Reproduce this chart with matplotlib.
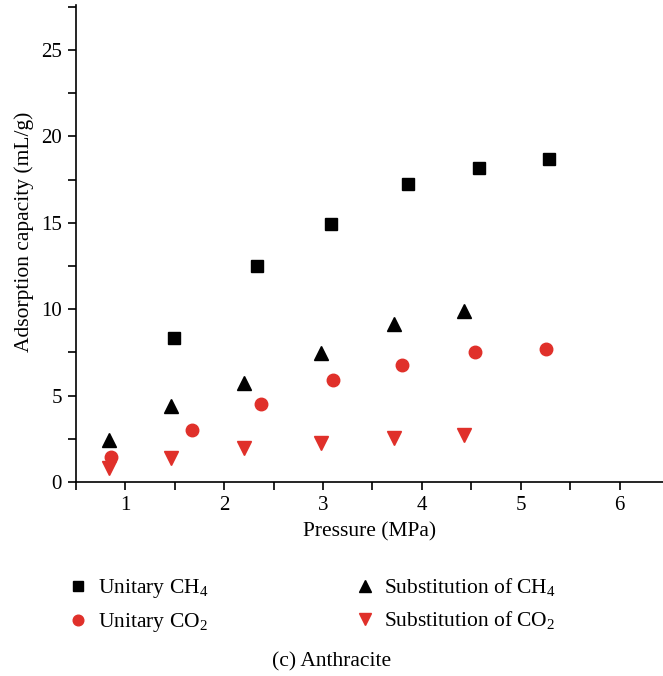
import matplotlib.pyplot as plt
from matplotlib.ticker import MultipleLocator

plt.rcParams["font.family"] = ["Liberation Serif", "DejaVu Serif"]
plt.rcParams["mathtext.fontset"] = "custom"
plt.rcParams["mathtext.rm"] = "Liberation Serif"

# adsorption data (pressure in MPa, capacity in mL/g)
p_ch4 = [1.49, 2.33, 3.08, 3.86, 4.58, 5.29]
unitary_ch4 = [8.33, 12.49, 14.9, 17.26, 18.19, 18.7]

p_sub = [0.83, 1.46, 2.20, 2.98, 3.72, 4.43]
subst_ch4 = [2.41, 4.38, 5.70, 7.47, 9.14, 9.88]
subst_co2 = [0.82, 1.36, 1.95, 2.26, 2.53, 2.72]

p_co2 = [0.85, 1.67, 2.37, 3.10, 3.80, 4.54, 5.26]
unitary_co2 = [1.42, 2.98, 4.49, 5.93, 6.75, 7.53, 7.72]

red = "#e0302a"

fig = plt.figure(figsize=(6.63, 6.76), dpi=100)
ax = fig.add_axes([76 / 663, 1 - 482 / 676, 1 - 76 / 663, (482 - 5) / 676])

h1, = ax.plot(p_ch4, unitary_ch4, "s", color="black", markersize=9, label="Unitary CH$\\mathregular{_4}$")
h2, = ax.plot(p_sub, subst_ch4, "^", color="black", markersize=10, label="Substitution of CH$\\mathregular{_4}$")
h3, = ax.plot(p_co2, unitary_co2, "o", color=red, markersize=9, label="Unitary CO$\\mathregular{_2}$")
h4, = ax.plot(p_sub, subst_co2, "v", color=red, markersize=10, label="Substitution of CO$\\mathregular{_2}$")

ax.set_xlim(0.5, 6.44)
ax.set_ylim(0, 27.6)
ax.xaxis.set_major_locator(MultipleLocator(1))
ax.xaxis.set_minor_locator(MultipleLocator(0.5))
ax.yaxis.set_major_locator(MultipleLocator(5))
ax.yaxis.set_minor_locator(MultipleLocator(2.5))
ax.tick_params(which="both", direction="out", labelsize=15, width=1.2, length=6, pad=4)
ax.spines["top"].set_visible(False)
ax.spines["right"].set_visible(False)
ax.spines["left"].set_linewidth(1.2)
ax.spines["bottom"].set_linewidth(1.2)

ax.set_xlabel("Pressure (MPa)", fontsize=15.5, labelpad=5)
ax.set_ylabel("Adsorption capacity (mL/g)", fontsize=15.5, labelpad=5, y=0.524)

fig.legend([h1, h3, h2, h4],
           [h1.get_label(), h3.get_label(), h2.get_label(), h4.get_label()],
           ncol=2, frameon=False, fontsize=15.5, loc="upper left",
           bbox_to_anchor=(48 / 663, 1 - 557 / 676),
           handlelength=1.0, handletextpad=0.4, columnspacing=6.8,
           labelspacing=0.5, markerscale=0.85)

fig.text(0.5, 1 - 662 / 676, "(c) Anthracite", ha="center", va="center", fontsize=15.5)

fig.savefig("out.png", dpi=100)
